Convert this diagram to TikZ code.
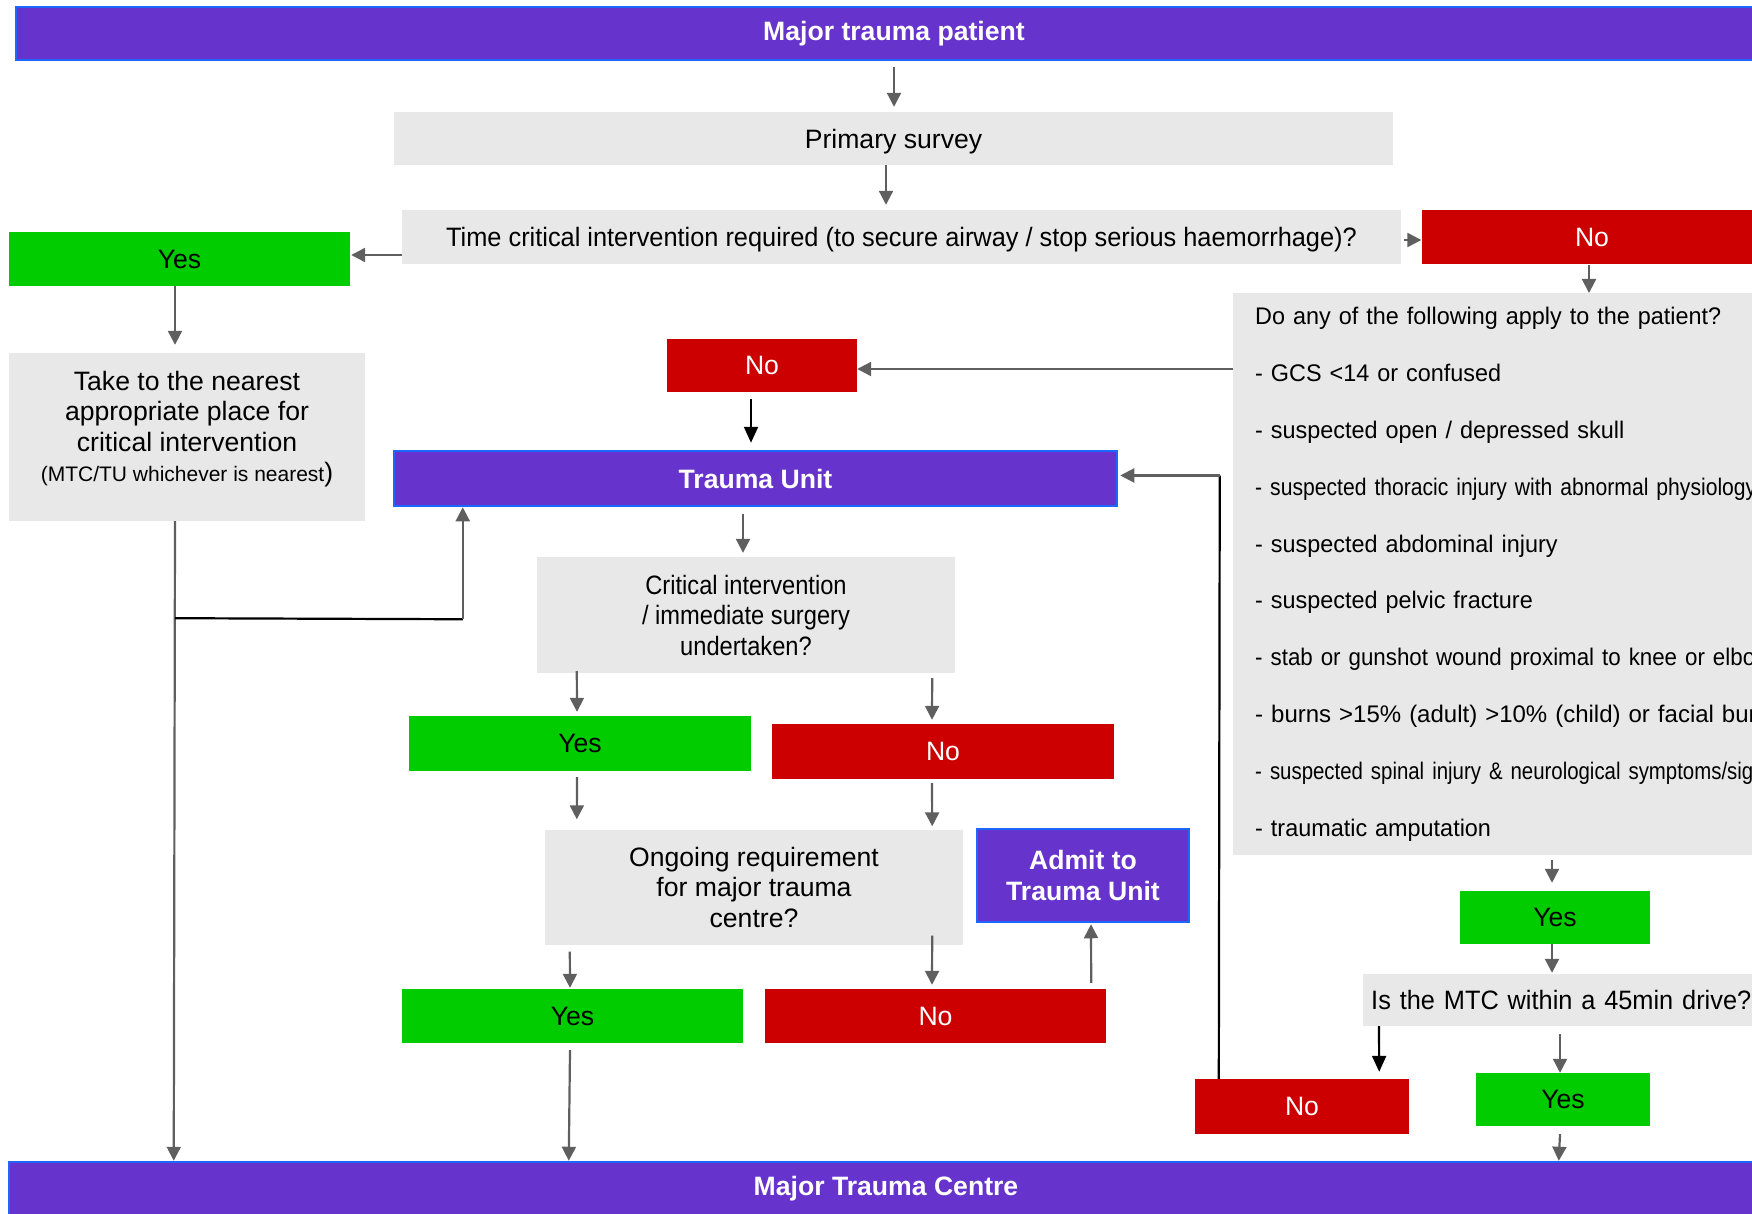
\documentclass[tikz,border=0pt]{standalone}
\usepackage{fontspec}
\setmainfont{Liberation Sans}
\newfontfamily\condfont[FakeStretch=0.89]{Liberation Sans}
\newfontfamily\slimfont[FakeStretch=0.953]{Liberation Sans}
\newfontfamily\listfont[FakeStretch=0.975]{Liberation Sans}
\newfontfamily\stabfont[FakeStretch=0.93]{Liberation Sans}
\newfontfamily\thorfont[FakeStretch=0.88]{Liberation Sans}
\newfontfamily\spinfont[FakeStretch=0.85]{Liberation Sans}
\usetikzlibrary{arrows.meta,calc}
\definecolor{purp}{HTML}{6633CC}
\definecolor{bordblue}{HTML}{1F66FF}
\definecolor{boxgray}{HTML}{E8E8E8}
\definecolor{yesgreen}{HTML}{00CC00}
\definecolor{nored}{HTML}{CC0000}
\definecolor{arrgray}{HTML}{5F5F5F}
\begin{document}
\begin{tikzpicture}[x=1pt,y=-1pt,
  base/.style={draw=none, inner sep=0pt, align=center, font=\fontsize{26.6}{30.5}\selectfont},
  grayb/.style={base, fill=boxgray, text=black},
  yesb/.style={base, fill=yesgreen, text=black},
  nob/.style={base, fill=nored, text=white},
  purpb/.style={base, fill=purp, draw=bordblue, line width=2.5pt, text=white, font=\fontsize{26.6}{30.5}\selectfont\bfseries},
  arr/.style={draw=arrgray, line width=2.2pt, -{Triangle[length=14pt,width=14pt]}},
  arrb/.style={draw=black, line width=2.2pt, -{Triangle[length=16pt,width=14pt]}},
  blackline/.style={draw=black, line width=2.2pt}]
\useasboundingbox (0,0) rectangle (1752,1214);
\clip (0,0) rectangle (1752,1214);

% nodes
\node[purpb, minimum width=1756pt, minimum height=53pt] (top) at (894,33.5) {Major trauma patient};
\node[grayb, minimum width=999pt, minimum height=53pt, text depth=0pt] (ps) at (893.5,138.5) {Primary survey};
\node[grayb, minimum width=999pt, minimum height=54pt, text depth=0pt] (tc) at (901.5,237) {\slimfont Time critical intervention required (to secure airway / stop serious haemorrhage)?};
\node[yesb, minimum width=341pt, minimum height=54pt] (yes1) at (179.5,259) {Yes};
\node[grayb, minimum width=356pt, minimum height=168pt] (take) at (187,437) {};
\node[base, text=black] (taketext) at (187,429) {Take to the nearest\\ appropriate place for\\ critical intervention\\ {\fontsize{21}{30.5}\selectfont (MTC/TU whichever is nearest})};
\node[nob, minimum width=341pt, minimum height=54pt] (no4) at (1592,237) {No};
\node[grayb, anchor=north west, minimum height=562pt, text width=560pt, inner xsep=22pt, align=left,
  font=\fontsize{24}{56.8}\selectfont\listfont] (apply) at (1233,293) {Do any of the following apply to the patient?\\
- GCS <14 or confused\\
- suspected open / depressed skull\\
{\thorfont - suspected thoracic injury with abnormal physiology}\\
- suspected abdominal injury\\
- suspected pelvic fracture\\
{\stabfont - stab or gunshot wound proximal to knee or elbow}\\
{\rmfamily - burns >15\% (adult) >10\% (child) or facial burns}\\
{\spinfont - suspected spinal injury \& neurological symptoms/signs}\\
- traumatic amputation};
\node[nob, minimum width=190pt, minimum height=53pt] (nored1) at (762,365.5) {No};
\node[purpb, minimum width=723pt, minimum height=55pt] (tu) at (755.5,478.5) {Trauma Unit};
\node[grayb, minimum width=418pt, minimum height=116pt] (crit) at (746,615) {{\condfont Critical intervention}\\ {\condfont / immediate surgery}\\ {\condfont undertaken?}};
\node[yesb, minimum width=342pt, minimum height=55pt] (yes2) at (580,743.5) {Yes};
\node[nob, minimum width=342pt, minimum height=55pt] (no2) at (943,751.5) {No};
\node[grayb, minimum width=418pt, minimum height=115pt] (ong) at (754,887) {Ongoing requirement\\ for major trauma\\ centre?};
\node[purpb, minimum width=212pt, minimum height=93pt, text depth=0pt] (admit) at (1083,875.5) {Admit to\\ Trauma Unit};
\node[yesb, minimum width=341pt, minimum height=54pt] (yes3) at (572.5,1016) {Yes};
\node[nob, minimum width=341pt, minimum height=54pt] (no3) at (935.5,1016) {No};
\node[purpb, minimum width=1754pt, minimum height=54pt] (mtc) at (886,1189) {Major Trauma Centre};
\node[yesb, minimum width=190pt, minimum height=53pt] (yes4) at (1555,917.5) {Yes};
\node[grayb, anchor=west, minimum height=52pt, text width=430pt, inner xsep=8pt, align=left] (mtcq) at (1363,1000) {\slimfont Is the MTC within a 45min drive?};
\node[nob, minimum width=214pt, minimum height=55pt] (no5) at (1302,1106.5) {No};
\node[yesb, minimum width=174pt, minimum height=53pt] (yes5) at (1563,1099.5) {Yes};

% connectors
\draw[arr] ($(top.south)+(0,6)$) -- ($(ps.north)+(0.5,-5)$);
\draw[arr] ($(ps.south)+(-7.5,0)$) -- ($(tc.north)+(-15.5,-5)$);
\draw[arr] ($(tc.west)+(0,18)$) -- ($(yes1.east)+(1,-4)$);
\draw[arr] ($(yes1.south)+(-4.5,0)$) -- ($(take.north)+(-12,-8)$);
\draw[arr] ($(tc.east)+(3,3)$) -- ($(no4.west)+(0,3)$);
\draw[arr] ($(no4.south)+(-3,1)$) -- ($(apply.north west)+(356,0)$);
\draw[arr] ($(apply.north west)+(0,76)$) -- ($(nored1.east)+(0,3.5)$);
\draw[arrb] ($(nored1.south)+(-11,7)$) -- ($(tu.north)+(-4.5,-7)$);
\draw[arr] ($(tu.south)+(-12.5,7)$) -- ($(crit.north)+(-3,-4)$);
\draw[arr] ($(crit.south west)+(40,-2)$) -- ($(yes2.north)+(-3,-4)$);
\draw[arr] ($(crit.south east)+(-23,5)$) -- ($(no2.north)+(-11,-4)$);
\draw[arr] ($(yes2.south)+(-3,6)$) -- ($(ong.north west)+(32,-10)$);
\draw[arr] ($(no2.south)+(-11,4)$) -- ($(ong.north east)+(-31,-3)$);
\draw[arr] ($(ong.south west)+(25,7)$) -- ($(yes3.north)+(-2.5,-1)$);
\draw[arr] ($(ong.south east)+(-31,-9)$) -- ($(no3.north)+(-3.5,-4)$);
\draw[arr] ($(no3.north east)+(-15,-6)$) -- ($(admit.south)+(8,1)$);
\draw[arr] ($(yes3.south)+(-2.5,7)$) -- ($(mtc.north west)+(561,0)$);
\draw[arr] ($(take.south)+(-12,0)$) -- ($(mtc.north west)+(166,0)$);
\coordinate (br) at ($(take.south)+(-12,97)$);
\coordinate (brup) at ($(tu.south west)+(70,112)$);
\draw[blackline] (br) -- (brup);
\draw[arr] (brup) -- ($(tu.south west)+(70,0)$);
\draw[arr] ($(apply.south west)+(319,5)$) -- ($(yes4.north)+(-3,-8)$);
\draw[arr] ($(yes4.south)+(-3,0)$) -- ($(mtcq.north west)+(189,-1)$);
\draw[arrb] ($(mtcq.south west)+(16,0)$) -- ($(no5.north east)+(-30,-7)$);
\draw[arr] ($(mtcq.south west)+(197,8)$) -- ($(yes5.north)+(-3,0)$);
\draw[arr] ($(yes5.south)+(-3,8)$) -- ($(mtc.north west)+(1551,0)$);
\coordinate (c25) at ($(tu.east)+(101.5,-3)$);
\draw[blackline] ($(no5.north west)+(24,0)$) -- (c25);
\draw[arr] (c25) -- ($(tu.east)+(2,-3)$);
\end{tikzpicture}
\end{document}
